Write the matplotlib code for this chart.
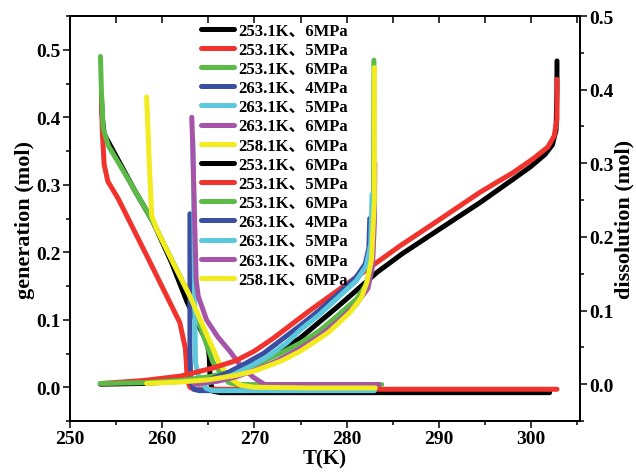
import matplotlib
matplotlib.use('Agg')
import matplotlib.pyplot as plt
from matplotlib.ticker import MultipleLocator

plt.rcParams['font.family'] = ['Liberation Serif', 'Noto Sans CJK SC']
plt.rcParams['font.weight'] = 'bold'

# 系列标签（生成 / 溶解 各7条）
labels = ['253.1K、6MPa', '253.1K、5MPa', '253.1K、6MPa', '263.1K、4MPa',
          '263.1K、5MPa', '263.1K、6MPa', '258.1K、6MPa']
colors = ['#000000', '#f0332d', '#5cba46', '#3a4ea2', '#5cc8dc', '#a654a8', '#f2ec1e']

# 生成量 (左轴)
gen_T_black = [302.0, 290.0, 280.0, 270.0, 266.3, 265.5, 265.2, 265.1, 264.9, 264.0, 262.7, 261.0, 259.0, 257.0, 254.3, 253.7, 253.5, 253.4]
gen_n_black = [-0.008, -0.008, -0.008, -0.008, -0.008, -0.006, 0.008, 0.045, 0.065, 0.09, 0.126, 0.185, 0.245, 0.292, 0.36, 0.375, 0.40, 0.43]
gen_T_red = [302.8, 290.0, 280.0, 270.0, 265.0, 263.6, 263.0, 262.7, 262.6, 262.5, 261.9, 258.5, 255.2, 254.1, 253.7, 253.5, 253.4]
gen_n_red = [-0.003, -0.003, -0.003, -0.003, -0.003, -0.003, 0.0, 0.012, 0.04, 0.058, 0.096, 0.19, 0.28, 0.305, 0.33, 0.38, 0.435]
gen_T_green = [283.8, 278.0, 272.0, 268.0, 267.2, 266.4, 265.5, 264.5, 263.0, 261.0, 259.0, 256.5, 254.15, 253.6, 253.4, 253.3]
gen_n_green = [0.004, 0.004, 0.004, 0.004, 0.007, 0.02, 0.037, 0.075, 0.135, 0.19, 0.245, 0.304, 0.358, 0.383, 0.44, 0.49]
gen_T_blue = [283.0, 275.0, 268.0, 265.0, 264.0, 263.4, 263.1, 263.0, 263.0]
gen_n_blue = [-0.005, -0.005, -0.005, -0.005, -0.005, -0.003, 0.008, 0.05, 0.257]
gen_T_cyan = [283.0, 275.0, 268.0, 265.5, 264.8, 264.0, 263.6, 263.5, 263.4, 263.3]
gen_n_cyan = [-0.005, -0.005, -0.005, -0.005, -0.002, 0.012, 0.037, 0.15, 0.3, 0.37]
gen_T_purple = [283.5, 277.0, 272.5, 271.1, 269.85, 268.5, 267.35, 266.0, 264.8, 263.9, 263.67, 263.45, 263.3, 263.2]
gen_n_purple = [0.004, 0.004, 0.004, 0.004, 0.015, 0.032, 0.053, 0.075, 0.1, 0.135, 0.16, 0.28, 0.36, 0.40]
gen_T_yellow = [283.1, 276.0, 270.0, 268.5, 267.5, 266.3, 264.6, 263.0, 261.2, 259.4, 258.86, 258.6, 258.4, 258.3]
gen_n_yellow = [-0.001, -0.001, 0.0, 0.003, 0.012, 0.032, 0.085, 0.135, 0.184, 0.234, 0.254, 0.33, 0.40, 0.43]

# 溶解量 (右轴)
dis_T_black = [253.3, 258.0, 262.0, 265.0, 268.0, 271.0, 274.9, 279.0, 283.3, 286.0, 290.0, 294.5, 298.0, 299.9, 301.5, 302.3, 302.7, 302.8, 302.8]
dis_n_black = [0.0, 0.001, 0.004, 0.009, 0.018, 0.032, 0.062, 0.105, 0.152, 0.177, 0.21, 0.247, 0.278, 0.295, 0.312, 0.325, 0.345, 0.40, 0.439]
dis_T_red = [253.5, 258.0, 262.0, 265.5, 268.0, 270.0, 272.0, 276.0, 280.0, 285.8, 290.0, 294.5, 298.0, 300.2, 301.8, 302.5, 302.8, 302.8]
dis_n_red = [0.001, 0.005, 0.011, 0.022, 0.032, 0.045, 0.062, 0.10, 0.136, 0.188, 0.223, 0.261, 0.287, 0.306, 0.322, 0.337, 0.36, 0.414]
dis_T_green = [253.25, 258.0, 262.0, 265.0, 268.0, 270.0, 272.5, 275.0, 277.0, 279.0, 281.1, 282.1, 282.6, 282.9, 282.95]
dis_n_green = [0.001, 0.002, 0.005, 0.01, 0.018, 0.026, 0.04, 0.056, 0.072, 0.093, 0.116, 0.135, 0.16, 0.22, 0.44]
dis_T_blue = [263.3, 265.0, 267.0, 269.0, 271.0, 273.0, 275.0, 277.0, 279.0, 281.0, 282.0, 282.4, 282.5]
dis_n_blue = [0.0, 0.006, 0.015, 0.028, 0.042, 0.061, 0.08, 0.10, 0.122, 0.145, 0.163, 0.185, 0.225]
dis_T_cyan = [263.8, 265.5, 267.5, 269.5, 271.5, 273.5, 275.0, 277.0, 279.0, 281.0, 282.1, 282.6, 282.75]
dis_n_cyan = [-0.001, 0.004, 0.012, 0.024, 0.038, 0.056, 0.074, 0.094, 0.117, 0.14, 0.16, 0.19, 0.258]
dis_T_purple = [263.5, 266.0, 268.0, 270.0, 272.5, 275.0, 277.0, 279.0, 281.0, 282.3, 282.8, 283.0, 283.05]
dis_n_purple = [0.0, 0.004, 0.01, 0.019, 0.032, 0.049, 0.065, 0.085, 0.108, 0.13, 0.16, 0.22, 0.30]
dis_T_yellow = [258.3, 262.0, 265.0, 268.0, 270.0, 272.8, 275.0, 278.0, 280.4, 281.6, 282.2, 282.7, 283.0, 283.0]
dis_n_yellow = [0.001, 0.003, 0.006, 0.012, 0.018, 0.031, 0.045, 0.07, 0.098, 0.118, 0.139, 0.17, 0.25, 0.43]

gen_T = [gen_T_black, gen_T_red, gen_T_green, gen_T_blue, gen_T_cyan, gen_T_purple, gen_T_yellow]
gen_n = [gen_n_black, gen_n_red, gen_n_green, gen_n_blue, gen_n_cyan, gen_n_purple, gen_n_yellow]
dis_T = [dis_T_black, dis_T_red, dis_T_green, dis_T_blue, dis_T_cyan, dis_T_purple, dis_T_yellow]
dis_n = [dis_n_black, dis_n_red, dis_n_green, dis_n_blue, dis_n_cyan, dis_n_purple, dis_n_yellow]

fig = plt.figure(figsize=(6.36, 4.77), dpi=100)
ax = fig.add_axes([0.1101, 0.1153, 0.8019, 0.849])
ax2 = ax.twinx()

lw = 3.6
handles = []
for T, n, c, lab in zip(gen_T, gen_n, colors, labels):
    h, = ax.plot(T, n, color=c, lw=lw, solid_capstyle='round', solid_joinstyle='round', label=lab)
    handles.append(h)
for T, n, c, lab in zip(dis_T, dis_n, colors, labels):
    h, = ax2.plot(T, n, color=c, lw=lw, solid_capstyle='round', solid_joinstyle='round', label=lab)
    handles.append(h)

ax.set_xlim(250.0, 305.3)
ax.set_ylim(-0.05, 0.55)
ax2.set_ylim(-0.05, 0.5)

ax.xaxis.set_major_locator(MultipleLocator(10))
ax.xaxis.set_minor_locator(MultipleLocator(5))
ax.set_yticks([0.0, 0.1, 0.2, 0.3, 0.4, 0.5])
ax.yaxis.set_minor_locator(MultipleLocator(0.05))
ax2.set_yticks([0.0, 0.1, 0.2, 0.3, 0.4, 0.5])
ax2.yaxis.set_minor_locator(MultipleLocator(0.05))
ax.yaxis.set_major_formatter(plt.FormatStrFormatter('%.1f'))
ax2.yaxis.set_major_formatter(plt.FormatStrFormatter('%.1f'))

for a in (ax, ax2):
    a.tick_params(which='major', direction='out', length=5, width=1.1, labelsize=14, pad=1.5)
    a.tick_params(which='minor', direction='out', length=3, width=1.1)
    for s in a.spines.values():
        s.set_linewidth(1.1)

# 顶部刻度（向内，无标签）
ax3 = ax.twiny()
ax3.set_xlim(ax.get_xlim())
ax3.xaxis.set_major_locator(MultipleLocator(5))
ax3.tick_params(axis='x', direction='in', length=5, width=1.1, labeltop=False)
for s in ax3.spines.values():
    s.set_linewidth(1.1)

ax.set_xlabel('T(K)', fontsize=15, fontweight='bold', labelpad=1)
ax.set_ylabel('generation (mol)', fontsize=16, fontweight='bold', labelpad=1)
ax2.set_ylabel('dissolution (mol)', fontsize=16, fontweight='bold', labelpad=0.5)

ax3.legend(handles=handles, loc='upper left', bbox_to_anchor=(0.257, 0.984), frameon=False,
           borderpad=0, borderaxespad=0, handlelength=2.0, handletextpad=0.25,
           labelspacing=0.19, prop={'weight': 'bold', 'size': 12})

plt.savefig('out.png', dpi=100, facecolor='white')
